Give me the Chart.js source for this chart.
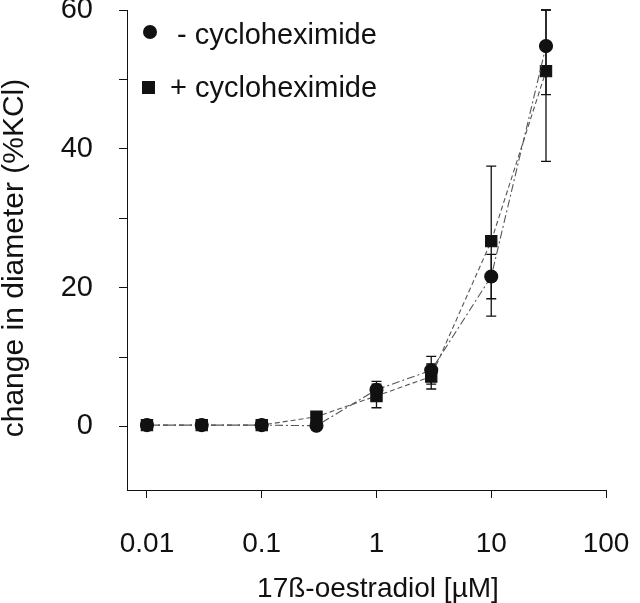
<!DOCTYPE html>
<html>
<head>
<meta charset="utf-8">
<script src="https://cdn.jsdelivr.net/npm/chart.js@4"></script>
<style>
  html, body { margin: 0; padding: 0; background: #fff; }
  #wrap { width: 640px; height: 603px; }
</style>
</head>
<body>
<div id="wrap"><canvas id="chart" width="640" height="603"></canvas></div>
<script>
// Datos
const concentrations = [0.01, 0.03, 0.1, 0.3, 1, 3, 10, 30];
const minusCyclo = [0.2, 0.2, 0.2, 0.1, 5.3, 8.1, 21.6, 54.8];
const minusCycloErr = [0, 0, 0, 0, 1.2, 2.0, 3.2, 7.0];
const plusCyclo = [0.2, 0.2, 0.2, 1.4, 4.4, 7.2, 26.7, 51.2];
const plusCycloErr = [0, 0, 0, 0, 1.7, 1.8, 10.8, 13.0];
const xTicks = [0.01, 0.1, 1, 10, 100];
const yTicks = [0, 10, 20, 30, 40, 50, 60];
const yLabelled = [0, 20, 40, 60];
const seriesNames = ['- cycloheximide', '+ cycloheximide'];

const FONT = "'Liberation Sans', Arial, sans-serif";
const INK = '#111';

// Barras de error (dibujadas antes de los puntos)
const errorBars = {
    id: 'errorBars',
    beforeDatasetsDraw(chart) {
        const ctx = chart.ctx;
        const y = chart.scales.y;
        const errs = [minusCycloErr, plusCycloErr];
        ctx.save();
        ctx.strokeStyle = INK;
        ctx.lineWidth = 1.3;
        chart.data.datasets.forEach((ds, i) => {
            const meta = chart.getDatasetMeta(i);
            meta.data.forEach((pt, j) => {
                const e = errs[i][j];
                if (!e) return;
                const v = ds.data[j].y;
                const top = y.getPixelForValue(Math.min(v + e, y.max));
                const bot = y.getPixelForValue(Math.max(v - e, y.min));
                ctx.beginPath();
                ctx.moveTo(pt.x, top); ctx.lineTo(pt.x, bot);
                ctx.moveTo(pt.x - 5, top); ctx.lineTo(pt.x + 5, top);
                ctx.moveTo(pt.x - 5, bot); ctx.lineTo(pt.x + 5, bot);
                ctx.stroke();
            });
        });
        ctx.restore();
    }
};

// Leyenda y titulos de ejes
const decorations = {
    id: 'decorations',
    afterDraw(chart) {
        const ctx = chart.ctx;
        ctx.save();
        ctx.fillStyle = INK;

        // leyenda
        ctx.beginPath();
        ctx.arc(150, 32, 7, 0, Math.PI * 2);
        ctx.fill();
        ctx.fillRect(142, 81, 13, 13);
        ctx.font = '29px ' + FONT;
        ctx.textAlign = 'left';
        ctx.textBaseline = 'alphabetic';
        ctx.fillText(seriesNames[0], 177, 44);
        ctx.fillText(seriesNames[1], 170, 97);

        // titulo eje x
        ctx.font = '28px ' + FONT;
        ctx.textAlign = 'center';
        ctx.fillText('17ß-oestradiol [µM]', 378, 597);

        // titulo eje y
        ctx.font = '30px ' + FONT;
        ctx.translate(23, 258);
        ctx.rotate(-Math.PI / 2);
        ctx.fillText('change in diameter (%KCl)', 0, 0);
        ctx.restore();
    }
};

const toPoints = vals => concentrations.map((c, i) => ({ x: c, y: vals[i] }));

new Chart(document.getElementById('chart'), {
    type: 'line',
    data: {
        datasets: [
            {
                label: seriesNames[0],
                data: toPoints(minusCyclo),
                borderColor: '#555',
                borderWidth: 1.1,
                borderDash: [8, 3, 2, 3],
                pointStyle: 'circle',
                pointRadius: 6.5,
                pointBackgroundColor: INK,
                pointBorderColor: INK,
                fill: false,
                tension: 0
            },
            {
                label: seriesNames[1],
                data: toPoints(plusCyclo),
                borderColor: '#555',
                borderWidth: 1.1,
                borderDash: [5, 3],
                pointStyle: 'rect',
                pointRadius: 8,
                pointBackgroundColor: INK,
                pointBorderColor: INK,
                fill: false,
                tension: 0
            }
        ]
    },
    options: {
        responsive: false,
        animation: false,
        layout: { padding: { top: 10, right: 34, bottom: 0, left: 0 } },
        plugins: {
            legend: { display: false },
            tooltip: { enabled: false }
        },
        scales: {
            x: {
                type: 'logarithmic',
                min: 0.0067,
                max: 100,
                afterBuildTicks: s => { s.ticks = xTicks.map(v => ({ value: v })); },
                afterFit: s => { s.height = 113; s.paddingLeft = 0; s.paddingRight = 0; },
                ticks: {
                    callback: v => String(v),
                    color: INK,
                    font: { family: FONT, size: 28 },
                    padding: 29,
                    maxRotation: 0,
                    autoSkip: false
                },
                grid: { drawOnChartArea: false, drawTicks: true, tickLength: 8, color: INK, tickColor: INK },
                border: { color: INK, width: 1 }
            },
            y: {
                min: -9.15,
                max: 60,
                afterBuildTicks: s => { s.ticks = yTicks.map(v => ({ value: v })); },
                afterFit: s => { s.width = 127; s.paddingTop = 0; s.paddingBottom = 0; },
                ticks: {
                    callback: v => yLabelled.includes(v) ? String(v) : '',
                    color: INK,
                    font: { family: FONT, size: 29, lineHeight: 0.7 },
                    padding: 26,
                    autoSkip: false
                },
                grid: { drawOnChartArea: false, drawTicks: true, tickLength: 8, color: INK, tickColor: INK },
                border: { color: INK, width: 1 }
            }
        }
    },
    plugins: [errorBars, decorations]
});
</script>
</body>
</html>
